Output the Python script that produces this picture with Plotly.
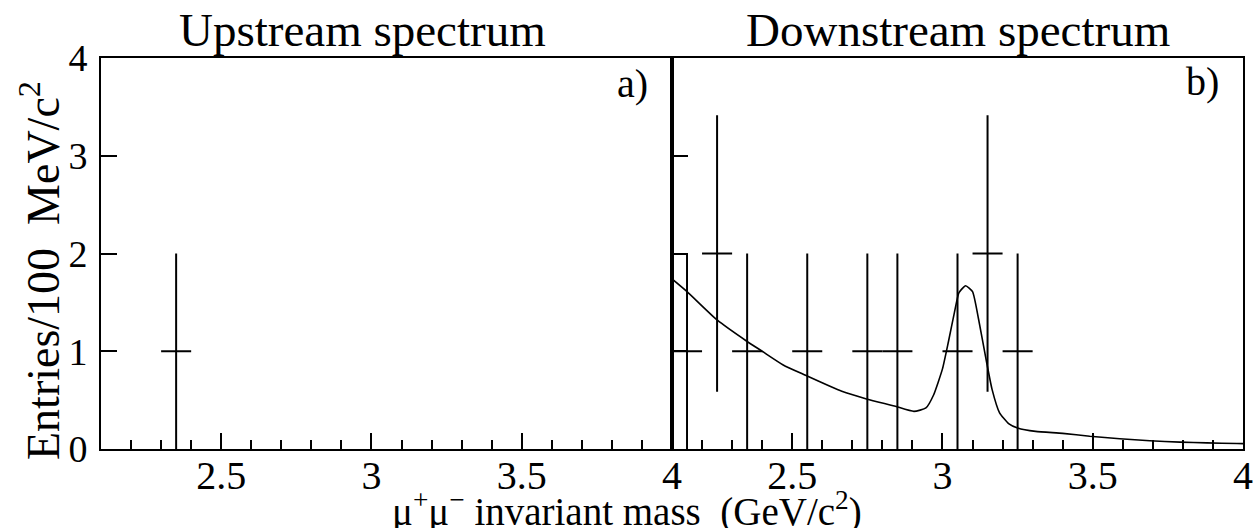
import numpy as np
import plotly.graph_objects as go

# Dimuon invariant-mass spectra, 100 MeV/c^2 bins
up_mass = [2.35]
up_counts = [1]

down_mass = [2.15, 2.25, 2.35, 2.55, 2.75, 2.85, 3.05, 3.15, 3.25]
down_counts = [1, 2, 1, 1, 1, 1, 1, 2, 1]

bin_half_width = 0.05

# Fitted background + J/psi line shape (downstream)
fit_mass = [2.10, 2.15, 2.25, 2.35, 2.40, 2.47, 2.54, 2.665, 2.75, 2.84,
            2.905, 2.945, 2.97, 3.00, 3.02, 3.04, 3.055, 3.077, 3.10, 3.12,
            3.143, 3.165, 3.19, 3.22, 3.25, 3.31, 3.40, 3.49, 3.59, 3.69,
            3.79, 3.88, 3.98, 4.00]
fit_entries = [1.74, 1.61, 1.32, 1.10, 1.00, 0.86, 0.76, 0.59, 0.51, 0.44,
               0.385, 0.42, 0.55, 0.82, 1.10, 1.40, 1.60, 1.67, 1.61, 1.33,
               0.95, 0.61, 0.37, 0.26, 0.215, 0.18, 0.16, 0.13, 0.105, 0.085,
               0.07, 0.063, 0.056, 0.055]

x_major = [2.5, 3.0, 3.5, 4.0]
x_minor = [round(v, 1) for v in np.arange(2.2, 4.0, 0.1)]
y_major = [0, 1, 2, 3, 4]

FONT = "Liberation Serif"
W, H = 1253, 528
LINE = 2


def points(x, y, xa, ya):
    err = np.sqrt(np.array(y, dtype=float))
    return go.Scatter(
        x=x, y=y, xaxis=xa, yaxis=ya, mode="markers",
        marker=dict(size=0.1, color="black"),
        error_x=dict(type="constant", value=bin_half_width, width=0,
                     thickness=LINE, color="black"),
        error_y=dict(type="data", array=err, width=0,
                     thickness=LINE, color="black"),
        showlegend=False, hoverinfo="skip",
    )


fig = go.Figure()
fig.add_trace(points(up_mass, up_counts, "x", "y"))
fig.add_trace(points(down_mass, down_counts, "x2", "y2"))
fig.add_trace(go.Scatter(
    x=fit_mass, y=fit_entries, xaxis="x2", yaxis="y2", mode="lines",
    line=dict(color="black", width=1.6, shape="spline", smoothing=0.5),
    showlegend=False, hoverinfo="skip",
))

px_x = lambda p: p / W
px_y = lambda p: 1 - p / H

left_dom = [px_x(101), px_x(672)]
right_dom = [px_x(672), px_x(1243)]
y_dom = [px_y(449), px_y(58)]

xcommon = dict(
    range=[2.1, 4.0], tickmode="array", tickvals=x_major,
    ticktext=["2.5", "3", "3.5", "4"],
    ticks="inside", ticklen=16, tickwidth=LINE, tickcolor="black",
    minor=dict(tickmode="array", tickvals=x_minor, ticks="inside",
               ticklen=9, tickwidth=LINE, tickcolor="black"),
    showline=True, linecolor="black", linewidth=LINE, mirror=True,
    showgrid=False, zeroline=False, automargin=False,
    tickfont=dict(family=FONT, size=40, color="black"),
    ticklabelstandoff=-10,
)
ycommon = dict(
    range=[0, 4], domain=y_dom, tickmode="array", tickvals=y_major,
    ticks="inside", ticklen=16, tickwidth=LINE, tickcolor="black",
    showline=True, linecolor="black", linewidth=LINE, mirror=True,
    showgrid=False, zeroline=False, automargin=False,
    tickfont=dict(family=FONT, size=38, color="black"),
)

fig.update_layout(
    width=W, height=H,
    margin=dict(l=0, r=0, t=0, b=0),
    paper_bgcolor="white", plot_bgcolor="white",
    xaxis=dict(domain=left_dom, anchor="y", **xcommon),
    xaxis2=dict(domain=right_dom, anchor="y2", **xcommon),
    yaxis=dict(anchor="x", showticklabels=True, ticklabelstandoff=4, **ycommon),
    yaxis2=dict(anchor="x2", showticklabels=False, **ycommon),
)

txt = dict(family=FONT, color="black")


def label(text, xp, yp, size, xanchor="center", angle=0):
    fig.add_annotation(text=text, x=px_x(xp), y=px_y(yp), xref="paper",
                       yref="paper", xanchor=xanchor, yanchor="middle",
                       showarrow=False, textangle=angle,
                       font=dict(size=size, **txt))


label("Upstream spectrum", 362, 30, 47)
label("Downstream spectrum", 958, 30, 47)
label("a)", 650, 83, 40, xanchor="right")
label("b)", 1221, 82, 40, xanchor="right")
label("Entries/100  MeV/c<sup>2</sup>", 40, 271, 46, angle=-90)
label("\u03bc<sup>+</sup>\u03bc<sup>\u2212</sup> invariant mass  (GeV/c<sup>2</sup>)",
      627, 509, 39)

fig.write_html("out.html")
